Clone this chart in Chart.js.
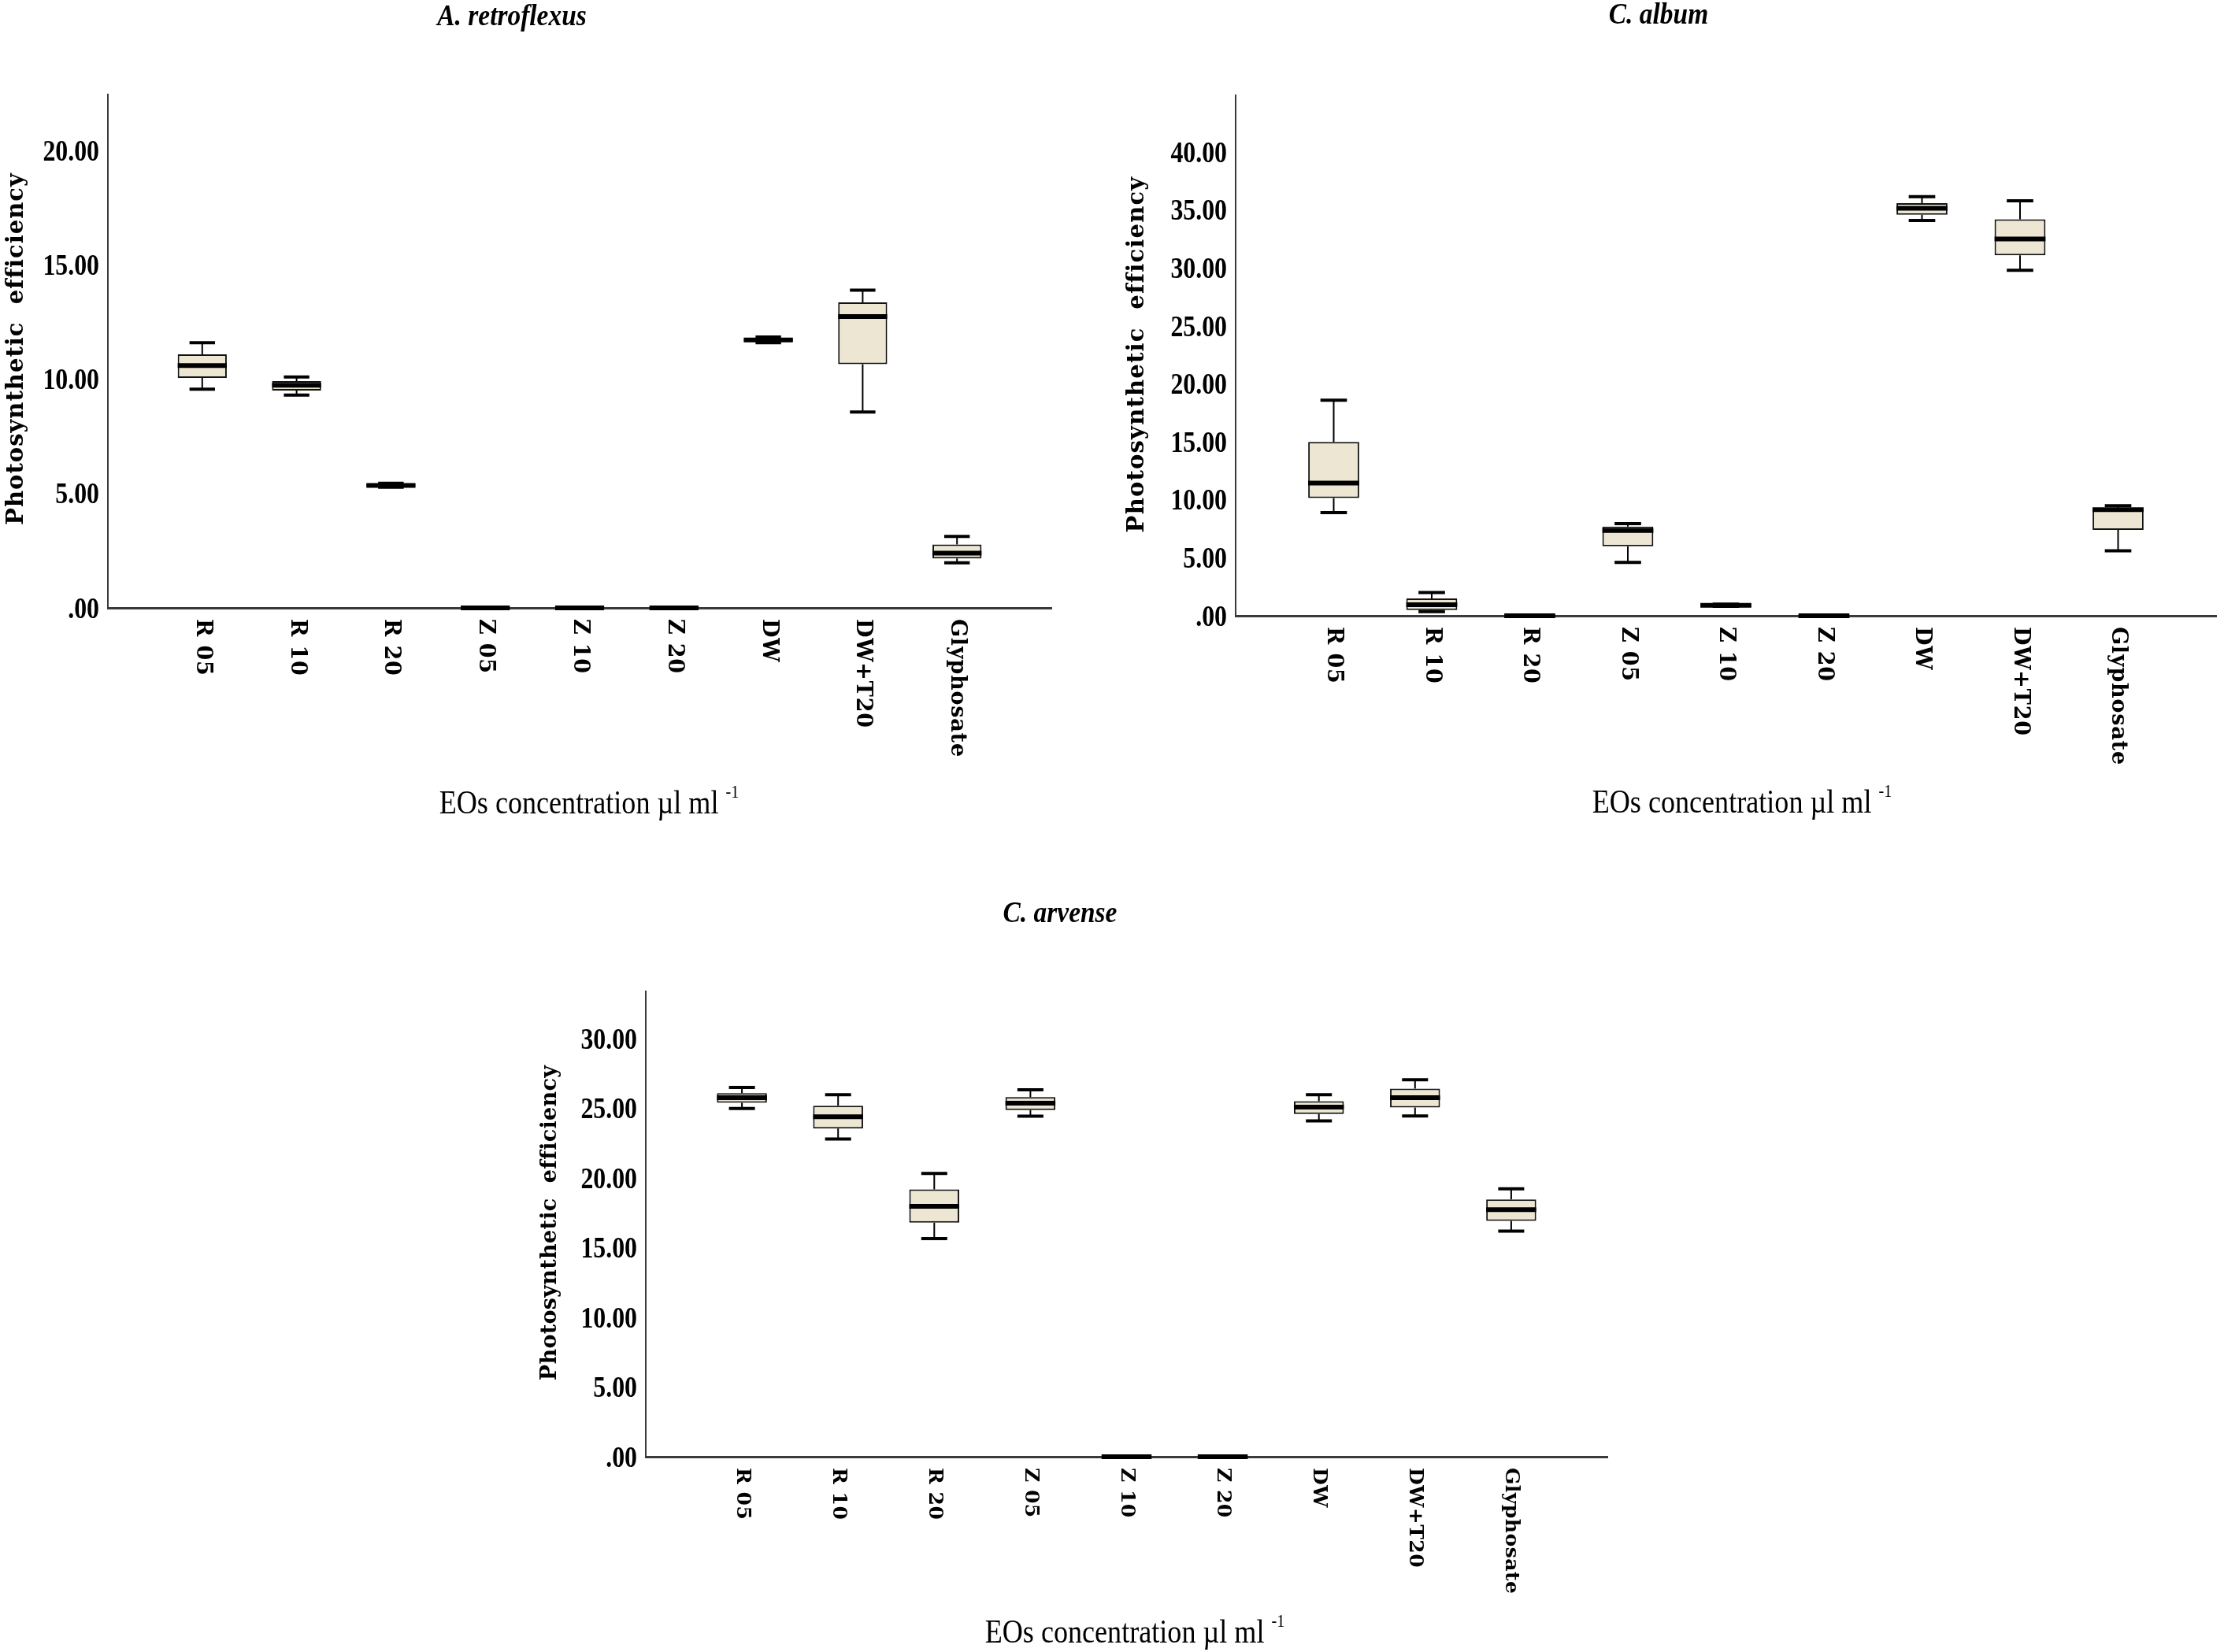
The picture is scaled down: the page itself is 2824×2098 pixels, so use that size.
<!DOCTYPE html>
<html>
<head>
<meta charset="utf-8">
<script src="https://cdn.jsdelivr.net/npm/chart.js@4.4.1/dist/chart.umd.min.js"></script>
<style>
  html, body { margin: 0; padding: 0; background: #fff; overflow: hidden; }
  body { width: 2824px; height: 2098px; position: relative; }
  canvas { position: absolute; }
</style>
</head>
<body>
<canvas id="retroChart" width="1400" height="1070" style="left:0px;top:0px"></canvas>
<canvas id="albumChart" width="1424" height="1070" style="left:1400px;top:0px"></canvas>
<canvas id="arvenseChart" width="1500" height="998" style="left:600px;top:1100px"></canvas>
<script>
const categories = ['R 05', 'R 10', 'R 20', 'Z 05', 'Z 10', 'Z 20', 'DW', 'DW+T20', 'Glyphosate'];

// A. retroflexus
const retroMin = [9.57, 9.31, 5.28, 0, 0, 0, 11.60, 8.57, 1.97];
const retroQ1  = [10.06, 9.51, 5.31, 0, 0, 0, 11.65, 10.66, 2.16];
const retroMed = [10.60, 9.74, 5.36, 0, 0, 0, 11.72, 12.75, 2.39];
const retroQ3  = [11.09, 9.92, 5.41, 0, 0, 0, 11.78, 13.37, 2.77];
const retroMax = [11.60, 10.10, 5.45, 0, 0, 0, 11.85, 13.90, 3.13];
const retroTicks = [0, 5, 10, 15, 20];

// C. album
const albumMin = [8.90, 0.35, 0, 4.60, 0.82, 0, 34.10, 29.80, 5.60];
const albumQ1  = [10.15, 0.50, 0, 6.00, 0.86, 0, 34.60, 31.10, 7.40];
const albumMed = [11.45, 0.95, 0, 7.35, 0.90, 0, 35.15, 32.50, 9.15];
const albumQ3  = [15.00, 1.50, 0, 7.70, 0.95, 0, 35.60, 34.20, 9.30];
const albumMax = [18.60, 2.00, 0, 7.95, 1.00, 0, 36.15, 35.80, 9.50];
const albumTicks = [0, 5, 10, 15, 20, 25, 30, 35, 40];

// C. arvense
const arvenseMin = [25.00, 22.80, 15.65, 24.44, 0, 0, 24.10, 24.46, 16.19];
const arvenseQ1  = [25.40, 23.55, 16.80, 24.88, 0, 0, 24.60, 25.07, 16.92];
const arvenseMed = [25.77, 24.40, 17.97, 25.37, 0, 0, 25.09, 25.77, 17.73];
const arvenseQ3  = [26.10, 25.19, 19.18, 25.82, 0, 0, 25.51, 26.42, 18.46];
const arvenseMax = [26.50, 25.98, 20.33, 26.33, 0, 0, 25.98, 27.06, 19.23];
const arvenseTicks = [0, 5, 10, 15, 20, 25, 30];

const boxFill = '#ECE6D2';
const serif = '"Liberation Serif", "Times New Roman", serif';
const wideSerif = '"DejaVu Serif", serif';

function fmtTick(v) {
  return v === 0 ? '.00' : v.toFixed(2);
}

// whiskers, caps and medians on top of the floating bars
function whiskerPlugin(s) {
  return {
    id: 'whiskers',
    afterDatasetsDraw(chart) {
      const c = chart.ctx;
      const y = chart.scales.y;
      const bars = chart.getDatasetMeta(0).data;
      c.save();
      c.strokeStyle = '#000';
      categories.forEach((name, i) => {
        const el = bars[i + 1];
        const x = el.x;
        const w = el.width;
        const cap = w * 0.52;
        const pMin = y.getPixelForValue(s.min[i]);
        const pQ1 = y.getPixelForValue(s.q1[i]);
        const pQ3 = y.getPixelForValue(s.q3[i]);
        const pMax = y.getPixelForValue(s.max[i]);
        const pMed = y.getPixelForValue(s.med[i]);
        c.lineWidth = 2;
        c.beginPath();
        c.moveTo(x, pQ3); c.lineTo(x, pMax);
        c.moveTo(x, pQ1); c.lineTo(x, pMin);
        c.stroke();
        c.lineWidth = 4;
        c.beginPath();
        c.moveTo(x - cap / 2, pMax); c.lineTo(x + cap / 2, pMax);
        c.moveTo(x - cap / 2, pMin); c.lineTo(x + cap / 2, pMin);
        c.stroke();
        c.lineWidth = 6;
        c.beginPath();
        c.moveTo(x - w / 2, pMed); c.lineTo(x + w / 2, pMed);
        c.stroke();
      });
      c.restore();
    }
  };
}

function condensedText(c, text, x, y, sx) {
  c.save();
  c.translate(x, y);
  c.scale(sx, 1);
  c.fillText(text, 0, 0);
  c.restore();
}

// titles, tick labels, rotated category labels, axis titles
function textPlugin(p, s) {
  return {
    id: 'texts',
    afterDraw(chart) {
      const c = chart.ctx;
      const area = chart.chartArea;
      const xs = chart.scales.x;
      const ys = chart.scales.y;
      c.save();
      c.fillStyle = '#000';

      c.font = 'italic bold 38px ' + serif;
      c.textAlign = 'center';
      c.textBaseline = 'middle';
      condensedText(c, p.title, p.titleX, p.titleY, 0.88);

      // y tick labels, condensed bold like the original
      c.font = 'bold 37px ' + serif;
      c.textAlign = 'right';
      s.ticks.forEach(v => {
        condensedText(c, fmtTick(v), area.left - 11, ys.getPixelForValue(v) + 3, 0.86);
      });

      c.font = 'bold ' + p.catSize + 'px ' + wideSerif;
      c.letterSpacing = p.catSpacing + 'px';
      c.textAlign = 'left';
      categories.forEach((name, i) => {
        c.save();
        c.translate(xs.getPixelForValue(i + 1), area.bottom + 14);
        c.rotate(Math.PI / 2);
        c.fillText(name, 0, 0);
        c.restore();
      });

      c.font = 'bold ' + p.yTitleSize + 'px ' + wideSerif;
      c.letterSpacing = p.yTitleSpacing + 'px';
      c.textAlign = 'center';
      c.save();
      c.translate(p.yTitleX, p.yTitleY);
      c.rotate(-Math.PI / 2);
      c.fillText('Photosynthetic  efficiency', 0, 0);
      c.restore();
      c.letterSpacing = '0px';

      const main = 'EOs concentration µl ml ';
      const sup = '-1';
      c.font = '43px ' + serif;
      const w1 = c.measureText(main).width * 0.84;
      c.font = '24px ' + serif;
      const w2 = c.measureText(sup).width * 0.84;
      const x0 = p.xTitleX - (w1 + w2) / 2;
      c.textAlign = 'left';
      c.textBaseline = 'alphabetic';
      c.font = '43px ' + serif;
      condensedText(c, main, x0, p.xTitleY + 13, 0.84);
      c.font = '24px ' + serif;
      condensedText(c, sup, x0 + w1, p.xTitleY - 7, 0.84);
      c.restore();
    }
  };
}

function drawPanel(id, s, p) {
  const el = document.getElementById(id);
  new Chart(el, {
    type: 'bar',
    data: {
      labels: ['', ...categories, ''],
      datasets: [{
        data: [null, ...s.q1.map((v, i) => [v, s.q3[i]]), null],
        backgroundColor: boxFill,
        borderColor: '#111',
        borderWidth: 2,
        borderSkipped: false,
        barPercentage: 0.52,
        categoryPercentage: 1
      }]
    },
    options: {
      responsive: false,
      animation: false,
      devicePixelRatio: 1,
      layout: { padding: { top: p.top, right: p.right, left: 0, bottom: 0 } },
      plugins: { legend: { display: false }, tooltip: { enabled: false }, title: { display: false } },
      scales: {
        x: {
          type: 'category',
          offset: false,
          grid: { display: false, drawTicks: false },
          border: { display: true, color: '#3a3a3a', width: 3 },
          ticks: { display: false },
          afterFit(scale) { scale.height = p.xHeight; }
        },
        y: {
          min: 0,
          max: s.yMax,
          grid: { display: false, drawTicks: false },
          border: { display: true, color: '#3a3a3a', width: 2 },
          ticks: { display: false },
          afterBuildTicks(scale) { scale.ticks = s.ticks.map(v => ({ value: v })); },
          afterFit(scale) { scale.width = p.yWidth; }
        }
      }
    },
    plugins: [whiskerPlugin(s), textPlugin(p, s)]
  });
}

drawPanel('retroChart',
  { min: retroMin, q1: retroQ1, med: retroMed, q3: retroQ3, max: retroMax, ticks: retroTicks, yMax: 22.46 },
  { title: 'A. retroflexus', titleX: 650, titleY: 22, top: 120, right: 65, yWidth: 137, xHeight: 298,
    catSize: 27, catSpacing: 0.8, yTitleSize: 29, yTitleSpacing: 1, yTitleX: 21, yTitleY: 443,
    xTitleX: 748, xTitleY: 1020 });

drawPanel('albumChart',
  { min: albumMin, q1: albumQ1, med: albumMed, q3: albumQ3, max: albumMax, ticks: albumTicks, yMax: 44.9 },
  { title: 'C. album', titleX: 706, titleY: 20, top: 121, right: 10, yWidth: 169, xHeight: 288,
    catSize: 27, catSpacing: 0.8, yTitleSize: 29, yTitleSpacing: 1.2, yTitleX: 44, yTitleY: 450,
    xTitleX: 812, xTitleY: 1019 });

drawPanel('arvenseChart',
  { min: arvenseMin, q1: arvenseQ1, med: arvenseMed, q3: arvenseQ3, max: arvenseMax, ticks: arvenseTicks, yMax: 33.4 },
  { title: 'C. arvense', titleX: 746, titleY: 61, top: 159, right: 59, yWidth: 220, xHeight: 248,
    catSize: 25, catSpacing: 0.5, yTitleSize: 27, yTitleSpacing: 0.3, yTitleX: 99, yTitleY: 453,
    xTitleX: 841, xTitleY: 973 });
</script>
</body>
</html>
